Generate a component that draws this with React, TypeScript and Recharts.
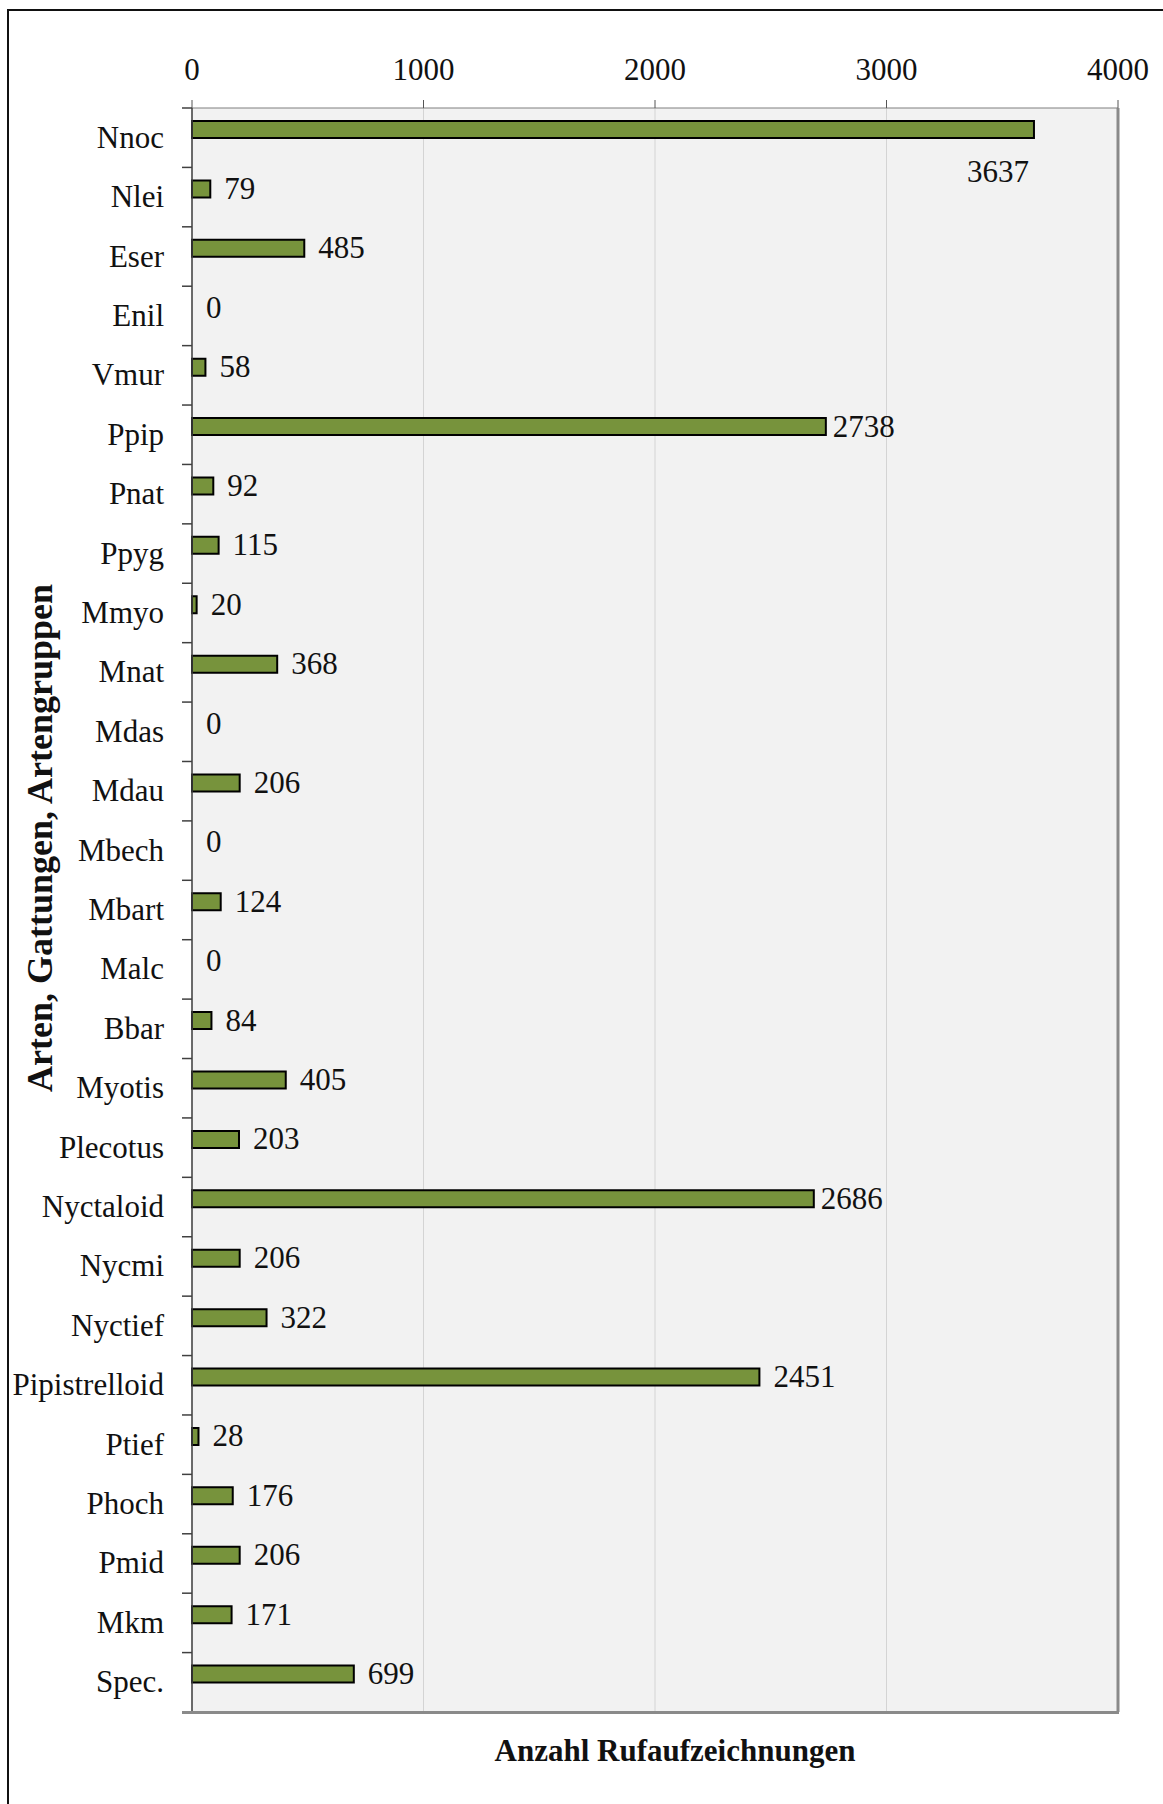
import { BarChart, Bar, XAxis, YAxis, CartesianGrid, LabelList, Label, ReferenceLine, Rectangle } from 'recharts';

const categories = [
  'Nnoc', 'Nlei', 'Eser', 'Enil', 'Vmur', 'Ppip', 'Pnat', 'Ppyg', 'Mmyo', 'Mnat',
  'Mdas', 'Mdau', 'Mbech', 'Mbart', 'Malc', 'Bbar', 'Myotis', 'Plecotus', 'Nyctaloid',
  'Nycmi', 'Nyctief', 'Pipistrelloid', 'Ptief', 'Phoch', 'Pmid', 'Mkm', 'Spec.',
];
const counts = [
  3637, 79, 485, 0, 58, 2738, 92, 115, 20, 368,
  0, 206, 0, 124, 0, 84, 405, 203, 2686,
  206, 322, 2451, 28, 176, 206, 171, 699,
];
const xTicks = [0, 1000, 2000, 3000, 4000];

const data = categories.map((name, i) => ({ name, count: counts[i] }));

const W = 1163;
const H = 1804;
const TOP = 108;
const LEFT = 192;
const RIGHT = 45;
const BOTTOM = 92;
const BAND = (H - TOP - BOTTOM) / categories.length;
const SHIFT = 8; // bars sit a little above the band centre
const FONT = '"Liberation Serif", "Times New Roman", serif';

function CategoryTick(props: any) {
  const { y, payload } = props;
  const top = y - BAND / 2;
  return (
    <g>
      <line x1={LEFT - 10} x2={LEFT} y1={top} y2={top} stroke="#404040" strokeWidth={1.5} />
      <text x={164} y={y + 10} textAnchor="end" fontFamily={FONT} fontSize={31} fill="#111">
        {payload.value}
      </text>
    </g>
  );
}

function ValueTick(props: any) {
  const { x, payload } = props;
  return (
    <text x={x} y={80} textAnchor="middle" fontFamily={FONT} fontSize={31} fill="#111">
      {payload.value}
    </text>
  );
}

function ShiftedBar(props: any) {
  if (!props.width) return null;
  return <Rectangle {...props} y={props.y - SHIFT} />;
}

function ValueLabel(props: any) {
  const { x, y, width, height, value } = props;
  const cy = y + height / 2 - SHIFT;
  // the longest bar carries its value underneath, flush with the bar end
  if (value > 3500) {
    return (
      <text x={x + width - 5} y={cy + 52} textAnchor="end" fontFamily={FONT} fontSize={31} fill="#111">
        {value}
      </text>
    );
  }
  const gap = value > 2600 ? 7 : 14;
  return (
    <text x={x + width + gap} y={cy + 10} fontFamily={FONT} fontSize={31} fill="#111">
      {value}
    </text>
  );
}

export default function App() {
  return (
    <div style={{ position: 'absolute', left: 0, top: 0, width: W, height: H, background: '#fff' }}>
      <div
        style={{
          position: 'absolute',
          left: 7,
          top: 9,
          right: 0,
          bottom: 0,
          borderTop: '2px solid #111',
          borderLeft: '2px solid #111',
        }}
      />
      <BarChart
        layout="vertical"
        width={W}
        height={H}
        data={data}
        margin={{ top: 0, right: RIGHT, bottom: BOTTOM, left: 0 }}
        style={{ position: 'absolute', left: 0, top: 0 }}
      >
        <CartesianGrid horizontal={false} fill="#f2f2f2" stroke="#d4d4d4" strokeWidth={1} />
        <XAxis
          type="number"
          orientation="top"
          domain={[0, 4000]}
          ticks={xTicks}
          height={TOP}
          tick={<ValueTick />}
          tickSize={8}
          tickLine={{ stroke: '#555' }}
          axisLine={{ stroke: '#7f7f7f', strokeWidth: 1 }}
        />
        <YAxis
          type="category"
          dataKey="name"
          width={LEFT}
          tick={<CategoryTick />}
          tickLine={false}
          interval={0}
          axisLine={{ stroke: '#404040', strokeWidth: 1.5 }}
        >
          <Label
            content={() => (
              <text
                x={52}
                y={838}
                transform="rotate(-90 52 838)"
                textAnchor="middle"
                fontFamily={FONT}
                fontSize={36}
                fontWeight="bold"
                fill="#111"
              >
                Arten, Gattungen, Artengruppen
              </text>
            )}
          />
        </YAxis>
        <ReferenceLine x={4000} stroke="#8a8a8a" strokeWidth={3} />
        <Bar
          dataKey="count"
          fill="#77933c"
          stroke="#000"
          strokeWidth={2}
          barSize={17}
          shape={<ShiftedBar />}
          isAnimationActive={false}
        >
          <LabelList dataKey="count" content={<ValueLabel />} />
        </Bar>
      </BarChart>
      {/* bottom frame of the plot area, running out to the last category tick */}
      <div
        style={{
          position: 'absolute',
          left: LEFT - 10,
          top: H - BOTTOM - 1,
          width: W - RIGHT - (LEFT - 10) + 1,
          height: 3,
          background: '#8a8a8a',
        }}
      />
      <div
        style={{
          position: 'absolute',
          left: 675 - 300,
          width: 600,
          top: 1733,
          textAlign: 'center',
          fontFamily: FONT,
          fontSize: 31,
          fontWeight: 'bold',
          lineHeight: '36px',
          color: '#111',
        }}
      >
        Anzahl Rufaufzeichnungen
      </div>
    </div>
  );
}
